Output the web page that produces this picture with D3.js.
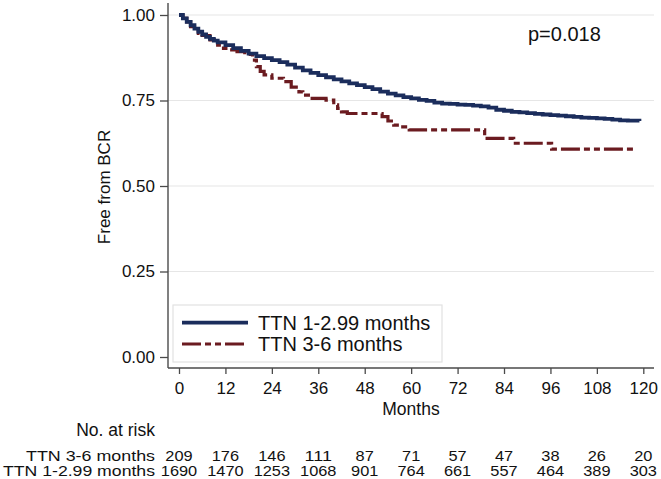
<!DOCTYPE html>
<html>
<head>
<meta charset="utf-8">
<script src="https://cdn.jsdelivr.net/npm/d3@7"></script>
<style>
  html, body { margin: 0; padding: 0; background: #fff; }
  svg { display: block; font-family: "Liberation Sans", Arial, Helvetica, sans-serif; }
</style>
</head>
<body>
<svg id="chart" width="661" height="479"></svg>
<script>
// ---- data ----
const xTicks = [0, 12, 24, 36, 48, 60, 72, 84, 96, 108, 120];
const yTicks = [0, 0.25, 0.5, 0.75, 1.0];
const gridTicks = [0.25, 0.5, 0.75, 1.0];

// TTN 1-2.99 months (Kaplan-Meier estimate)
const blueTime = [0, 1, 2, 3, 4, 5, 6, 7, 8, 9, 10, 12, 14, 16, 18, 20, 22, 24, 26, 28, 30, 32, 34, 36, 38, 40, 42, 44, 46, 48, 50, 52, 54, 56, 58, 60, 62, 64, 66, 68, 70, 72, 74, 76, 78, 80, 82, 84, 86, 88, 90, 92, 94, 96, 98, 100, 102, 104, 106, 108, 110, 112, 114, 116, 119];
const blueSurv = [1.000, 0.990, 0.980, 0.970, 0.960, 0.951, 0.943, 0.936, 0.930, 0.925, 0.920, 0.912, 0.903, 0.895, 0.887, 0.880, 0.874, 0.868, 0.862, 0.855, 0.846, 0.838, 0.831, 0.824, 0.818, 0.812, 0.806, 0.800, 0.795, 0.789, 0.783, 0.776, 0.770, 0.765, 0.760, 0.756, 0.752, 0.749, 0.744, 0.741, 0.740, 0.738, 0.737, 0.735, 0.733, 0.729, 0.723, 0.720, 0.717, 0.715, 0.713, 0.711, 0.709, 0.707, 0.706, 0.704, 0.702, 0.700, 0.699, 0.698, 0.696, 0.694, 0.692, 0.691, 0.690];

// TTN 3-6 months (Kaplan-Meier estimate)
const redTime = [0, 1, 2, 3, 4, 5, 6, 8, 10, 11.5, 13, 15, 17, 19, 20, 21, 22, 24, 27, 29, 31, 32, 34, 38, 40, 41, 42, 43.5, 52.5, 54, 55.5, 57, 59.5, 79, 86.5, 96.3, 118.3];
const redSurv = [1.000, 0.990, 0.980, 0.966, 0.955, 0.946, 0.940, 0.927, 0.912, 0.902, 0.898, 0.893, 0.885, 0.868, 0.849, 0.835, 0.825, 0.815, 0.805, 0.789, 0.775, 0.766, 0.756, 0.751, 0.737, 0.727, 0.717, 0.712, 0.703, 0.690, 0.678, 0.673, 0.664, 0.639, 0.625, 0.608, 0.608];

const groups = ["TTN 1-2.99 months", "TTN 3-6 months"];
const riskLabels = ["TTN 3-6 months", "TTN 1-2.99 months"];
const riskRed  = [209, 176, 146, 111, 87, 71, 57, 47, 38, 26, 20];
const riskBlue = [1690, 1470, 1253, 1068, 901, 764, 661, 557, 464, 389, 303];
const pText = "p=0.018";

// ---- drawing ----
const svg = d3.select("#chart");
const BLUE = "#1b2d5c", RED = "#6b1b20", AXIS = "#4a4a4a";

const x = d3.scaleLinear().domain([0, 120]).range([179, 643.3]);
const y = d3.scaleLinear().domain([0, 1]).range([357, 15]);

const plotLeft = 168, plotRight = 654, plotBottom = 368, plotTop = 3;

// grid
svg.append("g").selectAll("line").data(gridTicks).join("line")
  .attr("x1", plotLeft).attr("x2", plotRight)
  .attr("y1", d => y(d)).attr("y2", d => y(d))
  .attr("stroke", "#e6e6e6").attr("stroke-width", 1.2);

// y axis
const yAxis = d3.axisLeft(y).tickValues(yTicks).tickFormat(d3.format(".2f")).tickSize(8).tickPadding(5);
const gy = svg.append("g").attr("transform", `translate(${plotLeft},0)`).call(yAxis);
gy.select(".domain").remove();
gy.selectAll(".tick line").attr("stroke", AXIS).attr("stroke-width", 1.3);
gy.selectAll(".tick text").attr("font-size", 17).attr("fill", "#111")
  .attr("font-family", "Liberation Sans, Arial, sans-serif");
svg.append("line").attr("x1", plotLeft).attr("x2", plotLeft).attr("y1", plotTop).attr("y2", plotBottom)
  .attr("stroke", AXIS).attr("stroke-width", 1.4);

// x axis
const xAxis = d3.axisBottom(x).tickValues(xTicks).tickSize(6).tickPadding(8);
const gx = svg.append("g").attr("transform", `translate(0,${plotBottom})`).call(xAxis);
gx.select(".domain").remove();
gx.selectAll(".tick line").attr("stroke", AXIS).attr("stroke-width", 1.3);
gx.selectAll(".tick text").attr("font-size", 17).attr("fill", "#111")
  .attr("font-family", "Liberation Sans, Arial, sans-serif");
svg.append("line").attr("x1", plotLeft).attr("x2", plotRight).attr("y1", plotBottom).attr("y2", plotBottom)
  .attr("stroke", AXIS).attr("stroke-width", 1.4);

// axis titles
svg.append("text").attr("transform", "translate(110,187) rotate(-90)")
  .attr("text-anchor", "middle").attr("font-size", 17).attr("fill", "#111").text("Free from BCR");
svg.append("text").attr("x", 411).attr("y", 415)
  .attr("text-anchor", "middle").attr("font-size", 17.5).attr("fill", "#111").text("Months");

// curves
const line = d3.line().x(d => x(d[0])).y(d => y(d[1])).curve(d3.curveStepAfter);
const redData = redTime.map((t, i) => [t, redSurv[i]]);
const blueData = blueTime.map((t, i) => [t, blueSurv[i]]);

svg.append("path").datum(redData).attr("d", line)
  .attr("fill", "none").attr("stroke", RED).attr("stroke-width", 3.2)
  .attr("stroke-dasharray", "19,4,6,4,6,4");
svg.append("path").datum(blueData).attr("d", line)
  .attr("fill", "none").attr("stroke", BLUE).attr("stroke-width", 3.8);

// p value
svg.append("text").attr("x", 528).attr("y", 40.5).attr("font-size", 20).attr("fill", "#111").text(pText);

// legend
const lg = svg.append("g");
lg.append("rect").attr("x", 173).attr("y", 305).attr("width", 269).attr("height", 57)
  .attr("fill", "#fff").attr("stroke", "#e2e2e2").attr("stroke-width", 1.2);
const legendRows = [
  { label: groups[0], color: BLUE, w: 3.8, dash: null, yy: 322.7 },
  { label: groups[1], color: RED, w: 3.2, dash: "19,4,6,4,6,4", yy: 344 }
];
legendRows.forEach(r => {
  lg.append("line").attr("x1", 182).attr("x2", 248).attr("y1", r.yy).attr("y2", r.yy)
    .attr("stroke", r.color).attr("stroke-width", r.w).attr("stroke-dasharray", r.dash);
  lg.append("text").attr("x", 258).attr("y", r.yy + 7).attr("font-size", 20).attr("fill", "#111").text(r.label);
});

// number at risk table (rows are tightly stacked; glyphs stretched to the reference widths)
svg.append("text").attr("x", 155).attr("y", 436).attr("text-anchor", "end")
  .attr("font-size", 17.5).attr("fill", "#111").text("No. at risk");
const rows = [riskRed, riskBlue];
const rowY = [460.5, 476];
const labelW = [129, 152];
rows.forEach((vals, i) => {
  svg.append("text").attr("x", 155).attr("y", rowY[i]).attr("text-anchor", "end")
    .attr("font-size", 14.5).attr("fill", "#111")
    .attr("textLength", labelW[i]).attr("lengthAdjust", "spacingAndGlyphs")
    .text(riskLabels[i]);
  svg.append("g").selectAll("text").data(vals).join("text")
    .attr("x", (d, j) => x(xTicks[j])).attr("y", rowY[i])
    .attr("text-anchor", "middle").attr("font-size", 14.5).attr("fill", "#111")
    .attr("textLength", d => String(d).length * 9.1).attr("lengthAdjust", "spacingAndGlyphs")
    .text(d => d);
});
</script>
</body>
</html>
